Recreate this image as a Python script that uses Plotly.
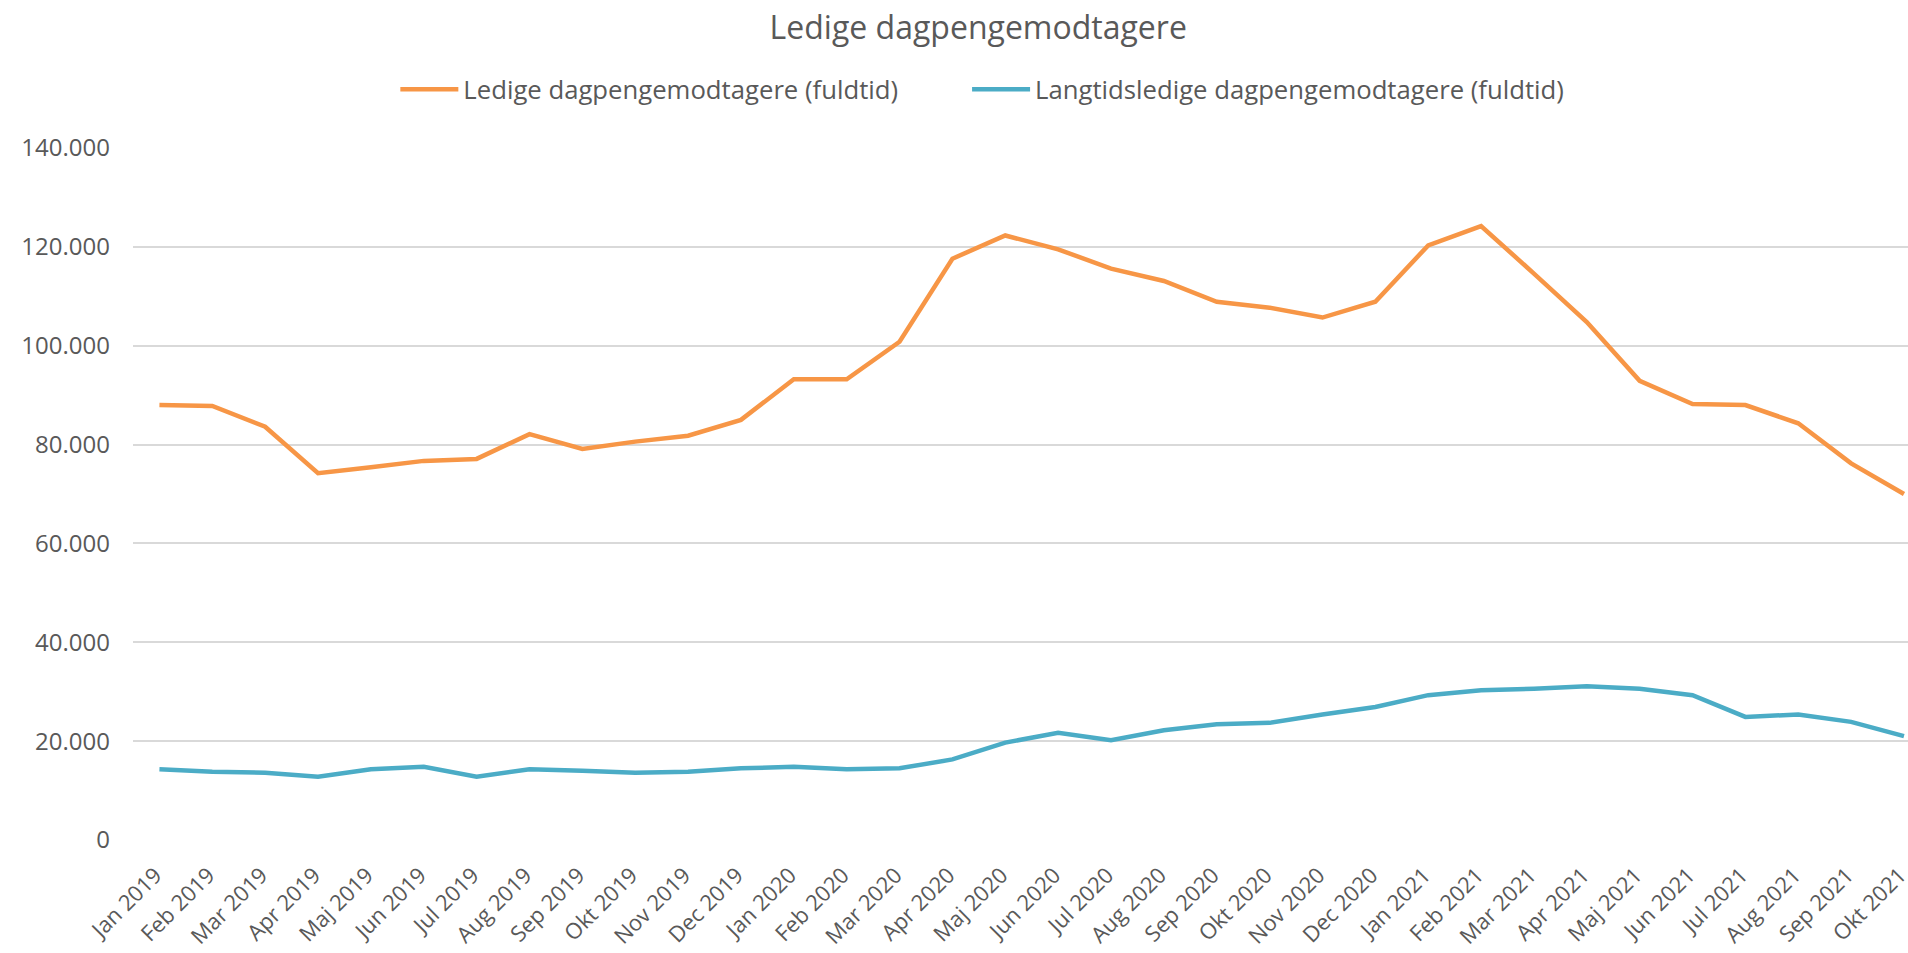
import plotly.graph_objects as go

months = ["Jan 2019", "Feb 2019", "Mar 2019", "Apr 2019", "Maj 2019", "Jun 2019",
          "Jul 2019", "Aug 2019", "Sep 2019", "Okt 2019", "Nov 2019", "Dec 2019",
          "Jan 2020", "Feb 2020", "Mar 2020", "Apr 2020", "Maj 2020", "Jun 2020",
          "Jul 2020", "Aug 2020", "Sep 2020", "Okt 2020", "Nov 2020", "Dec 2020",
          "Jan 2021", "Feb 2021", "Mar 2021", "Apr 2021", "Maj 2021", "Jun 2021",
          "Jul 2021", "Aug 2021", "Sep 2021", "Okt 2021"]

ledige = [88000, 87800, 83600, 74200, 75400, 76700, 77100, 82100, 79100, 80600,
          81800, 85000, 93200, 93200, 100800, 117600, 122300, 119500, 115600, 113100,
          108900, 107700, 105700, 108900, 120300, 124200, 114600, 104800, 92900, 88200,
          88000, 84300, 76200, 70000]

langtid = [14300, 13800, 13600, 12800, 14300, 14800, 12800, 14300, 14000, 13600,
           13800, 14500, 14800, 14300, 14500, 16300, 19700, 21700, 20200, 22200,
           23400, 23700, 25400, 26900, 29300, 30300, 30600, 31100, 30600, 29300,
           24900, 25400, 23900, 21000]

y_ticks = [0, 20000, 40000, 60000, 80000, 100000, 120000, 140000]

FONT = "Open Sans"
GREY = "#595959"

fig = go.Figure()
fig.add_trace(go.Scatter(x=months, y=ledige, mode="lines", showlegend=True,
                         name="Ledige dagpengemodtagere (fuldtid)", legend="legend",
                         line=dict(color="#F79646", width=4.5)))
fig.add_trace(go.Scatter(x=months, y=langtid, mode="lines", showlegend=True,
                         name="Langtidsledige dagpengemodtagere (fuldtid)", legend="legend2",
                         line=dict(color="#4BACC6", width=4.5)))

legend_common = dict(orientation="h", xanchor="left", yanchor="middle", y=1.0845,
                     font=dict(family=FONT, size=25.7, color=GREY), itemwidth=58,
                     bgcolor="rgba(0,0,0,0)", visible=True)

fig.update_layout(
    width=1908, height=953, showlegend=True,
    paper_bgcolor="white", plot_bgcolor="white",
    separators=",.",
    margin=dict(l=133, r=0, t=148, b=113, autoexpand=False),
    title=dict(text="Ledige dagpengemodtagere", x=0.4762, xref="paper", xanchor="center",
               y=1 - 27.5 / 953, yref="container", yanchor="middle",
               font=dict(family=FONT, size=32, color=GREY)),
    legend=dict(x=0.1478, **legend_common),
    legend2=dict(x=0.4699, **legend_common),
    xaxis=dict(type="category", range=[-0.5, 33.076], tickangle=-45,
               showgrid=False, showline=False, ticks="", zeroline=False,
               ticklabelshift=-4, ticklabelstandoff=17,
               tickfont=dict(family=FONT, size=22, color=GREY)),
    yaxis=dict(range=[0, 140000], tickvals=y_ticks, tickformat=",d",
               showgrid=True, gridcolor="#D9D9D9", gridwidth=1.5,
               zeroline=False, showline=False, ticks="", ticklabelstandoff=22,
               tickfont=dict(family=FONT, size=24, color=GREY)),
)

fig.write_html("out.html", config={"displayModeBar": False},
               post_script="document.body.style.margin='0';document.body.style.overflow='hidden';")
